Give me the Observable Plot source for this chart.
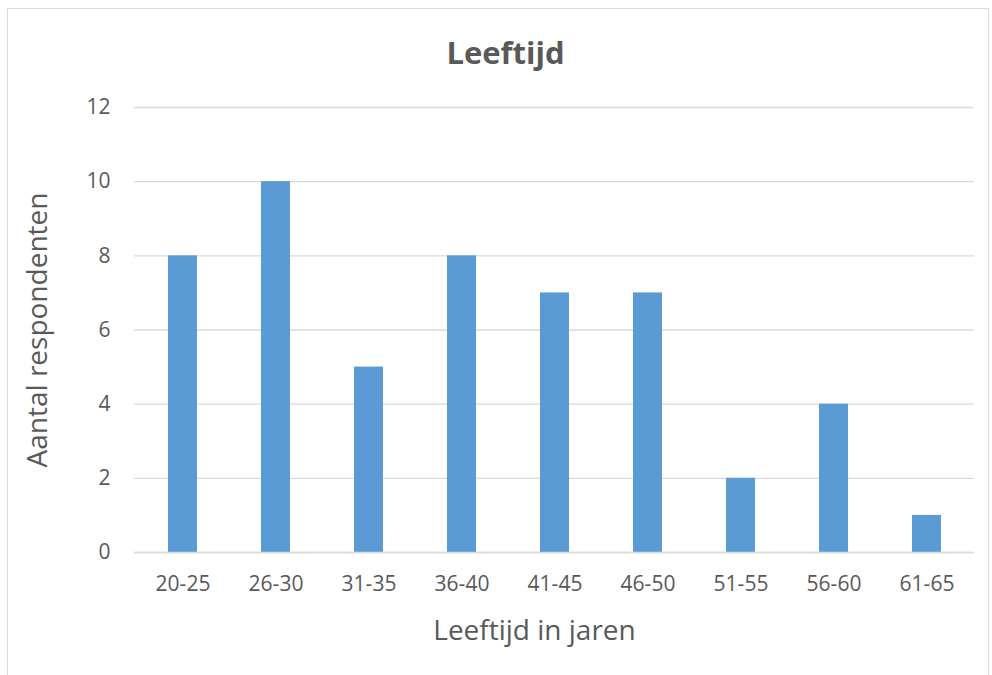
<!DOCTYPE html>
<html>
<head>
<meta charset="utf-8">
<script src="https://cdn.jsdelivr.net/npm/d3@7"></script>
<script src="https://cdn.jsdelivr.net/npm/@observablehq/plot@0.6"></script>
<style>
  html, body { margin: 0; padding: 0; background: #fff; }
  #wrap { position: relative; width: 992px; height: 675px; overflow: hidden; }
  #frame { position: absolute; left: 7px; top: 8px; width: 982px; height: 690px; border: 1.5px solid #d9d9d9; box-sizing: border-box; }
  #chart { position: absolute; left: 0; top: 0; }
</style>
</head>
<body>
<div id="wrap"><div id="frame"></div><div id="chart"></div></div>
<script>
const categories = ["20-25", "26-30", "31-35", "36-40", "41-45", "46-50", "51-55", "56-60", "61-65"];
const counts = [8, 10, 5, 8, 7, 7, 2, 4, 1];
const yTicks = [0, 2, 4, 6, 8, 10, 12];
const title = "Leeftijd";
const xTitle = "Leeftijd in jaren";
const yTitle = "Aantal respondenten";

const data = categories.map((c, i) => ({ cat: c, n: counts[i] }));
const font = "Open Sans, Calibri, sans-serif";
const textColor = "#595959";

const chart = Plot.plot({
  width: 992,
  height: 675,
  marginLeft: 134,
  marginRight: 18,
  marginTop: 107,
  marginBottom: 123,
  style: { fontFamily: font, color: textColor, background: "transparent", overflow: "visible" },
  x: { domain: categories, paddingInner: 0.69, paddingOuter: 0.345, label: null },
  y: { domain: [0, 12], label: null },
  marks: [
    Plot.gridY(yTicks, { stroke: "#d9d9d9", strokeOpacity: 1, strokeWidth: 1.3 }),
    Plot.barY(data, { x: "cat", y: "n", fill: "#5b9bd5" }),
    Plot.ruleY([0], { stroke: "#d9d9d9", strokeWidth: 1.5 }),
    Plot.axisY({ ticks: yTicks, tickSize: 0, tickPadding: 24, fontSize: 21, fill: textColor, label: null }),
    Plot.axisX({ tickSize: 0, tickPadding: 24, fontSize: 21, fill: textColor, label: null }),
    Plot.text([title], { frameAnchor: "top", dy: -66, dx: -49, fontSize: 31, fontWeight: "bold", fill: textColor, fontFamily: font }),
    Plot.text([xTitle], { frameAnchor: "bottom", dy: 87, dx: -20, fontSize: 28, fill: textColor, fontFamily: font }),
    Plot.text([yTitle], { frameAnchor: "left", dx: -96, rotate: -90, textAnchor: "middle", fontSize: 28, fill: textColor, fontFamily: font })
  ]
});
document.getElementById("chart").appendChild(chart);
</script>
</body>
</html>
